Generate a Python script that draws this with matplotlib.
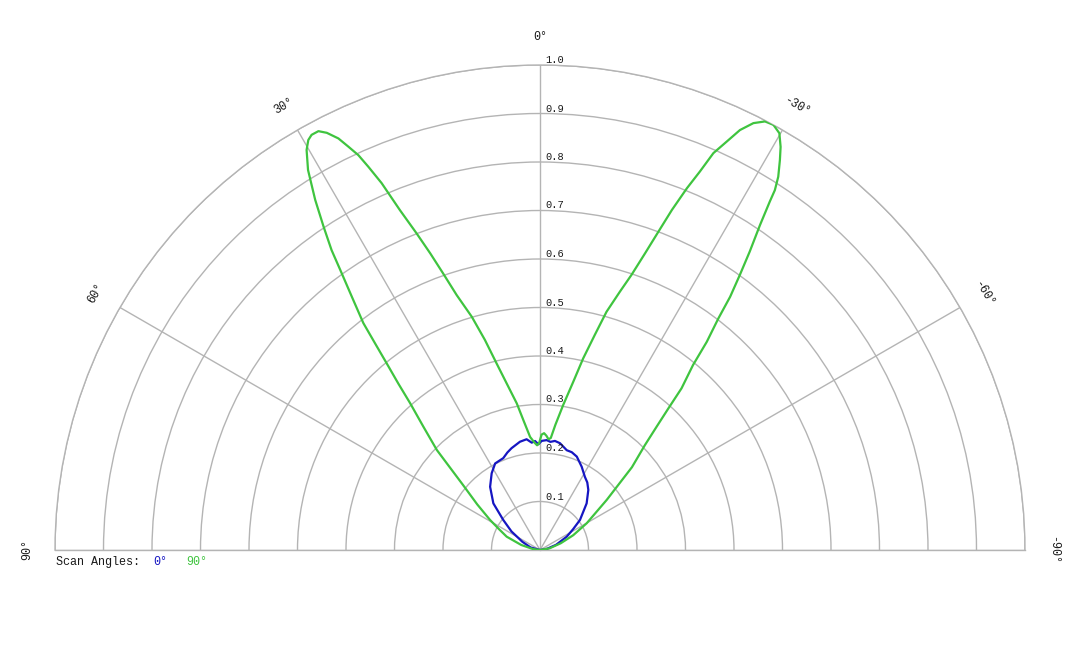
import numpy as np
import matplotlib
matplotlib.use("Agg")
import matplotlib.pyplot as plt
from matplotlib.transforms import offset_copy

plt.rcParams['font.family'] = ['Liberation Mono', 'DejaVu Sans Mono']

# scan angle 0 deg (blue) -- angle in degrees (positive = left), normalised level
theta_0 = [90, 75, 65, 57, 50.7, 45, 38.3, 32.2, 27.4, 21.8, 18.5, 15.6, 10.5, 6.9, 4.4,
           2.6, 0.9, -0.9, -3.5, -5.5, -7.8, -10.6, -15, -18, -21.5, -26.6, -31.5, -35,
           -38.8, -45, -53.1, -58, -63.5, -72, -80, -90]
r_0 = [0, 0.02, 0.04, 0.07, 0.098, 0.136, 0.166, 0.187, 0.201, 0.204, 0.212, 0.218, 0.227,
       0.230, 0.222, 0.225, 0.218, 0.225, 0.227, 0.224, 0.227, 0.224, 0.213, 0.212, 0.207,
       0.192, 0.177, 0.170, 0.159, 0.136, 0.103, 0.08, 0.0615, 0.035, 0.015, 0]

# scan angle 90 deg (green)
theta_90 = [90, 82, 75, 68.2, 63, 59, 54, 49.8, 45.9, 43.4, 41.5, 40.4, 39.4, 38.6, 37.9,
            36.6, 35.5, 34.8, 33.8, 32.7, 31.4, 30.26, 29.47, 28.82, 27.88, 27.07, 26.1,
            25.42, 24.7, 24.13, 23.35, 22.4, 21.3, 20.3, 19.3, 18.1, 16.3, 14.7, 13.1,
            11.3, 9.0, 7.3, 5.0, 3.0, 1.6, 0.5, -0.8, -2.0, -3.2, -4.4, -5.5, -7.0, -9.1,
            -11.2, -12.7, -14.3, -15.6, -17.2, -18.4, -19.5, -20.4, -21.2, -22.1, -22.9,
            -23.6, -24.57, -25.46, -26.56, -27.7, -28.77, -29.87, -30.83, -31.6, -32.55,
            -33.13, -33.4, -34.1, -35.1, -36.0, -36.9, -37.6, -38.7, -39.6, -41.2, -42.2,
            -43.4, -45.0, -48.0, -53.1, -60.2, -66, -72, -80, -90]
r_90 = [0, 0.015, 0.04, 0.074, 0.095, 0.12, 0.16, 0.208, 0.296, 0.350, 0.404, 0.451, 0.498,
        0.545, 0.593, 0.651, 0.709, 0.753, 0.802, 0.858, 0.918, 0.955, 0.971, 0.977, 0.977,
        0.966, 0.945, 0.921, 0.896, 0.866, 0.824, 0.758, 0.701, 0.652, 0.604, 0.553, 0.501,
        0.448, 0.395, 0.350, 0.306, 0.270, 0.234, 0.222, 0.216, 0.22, 0.238, 0.241, 0.236,
        0.229, 0.232, 0.26, 0.303, 0.354, 0.405, 0.458, 0.510, 0.558, 0.598, 0.649, 0.700,
        0.752, 0.805, 0.847, 0.893, 0.926, 0.959, 0.984, 0.998, 1.0, 0.991, 0.968, 0.944,
        0.913, 0.886, 0.861, 0.809, 0.752, 0.701, 0.653, 0.603, 0.550, 0.495, 0.443, 0.394,
        0.350, 0.306, 0.255, 0.172, 0.111, 0.075, 0.045, 0.02, 0]

r_ticks = [0.1, 0.2, 0.3, 0.4, 0.5, 0.6, 0.7, 0.8, 0.9, 1.0]
angle_ticks = [90, 60, 30, 0, -30, -60, -90]

blue = '#1616c2'
green = '#3fc43f'
grid_col = '#b4b4b4'

W, H = 1080, 648
fig = plt.figure(figsize=(10.8, 6.48), dpi=100)
# the half disc is centred inside a square box, so the box is made 970 px square
# and shifted so that the disc's centre sits at (540, 550) px
side = 970
box_top = 307.5 - side / 2
ax = fig.add_axes([55 / W, (H - box_top - side) / H, side / W, side / H], projection='polar')
ax.set_theta_zero_location('N')
ax.set_theta_direction(1)
ax.set_thetamin(-90)
ax.set_thetamax(90)
ax.set_rlim(0, 1)

ax.set_rticks(r_ticks)
ax.set_yticklabels([])
ax.set_thetagrids(angle_ticks, labels=[''] * len(angle_ticks))
ax.grid(True, color=grid_col, linewidth=1)
ax.tick_params(length=0)
for sp in ax.spines.values():
    sp.set_color(grid_col)
    sp.set_linewidth(1)

ax.plot(np.radians(theta_0), r_0, color=blue, lw=1.6, zorder=3, solid_joinstyle='round')
ax.plot(np.radians(theta_90), r_90, color=green, lw=1.6, zorder=3, solid_joinstyle='round')

# radial labels just right of the 0 deg spoke
lab_tr = offset_copy(ax.transData, fig=fig, x=5, y=2, units='dots')
for r in r_ticks:
    ax.text(0, r, f'{r:.1f}', transform=lab_tr, ha='left', va='baseline',
            fontsize=7.5, color='#1a1a1a')

# angle labels, rotated along the rim
for a in angle_ticks:
    ax.text(np.radians(a), 1.057, f'{a}°', rotation=a, rotation_mode='anchor',
            ha='center', va='center', fontsize=8.5, color='#1a1a1a')

fig.text(56 / W, 1 - 562 / H, 'Scan Angles:', ha='left', va='center',
         fontsize=8.5, color='#1a1a1a')
fig.text(153 / W, 1 - 562 / H, '0°', ha='left', va='center', fontsize=8.5, color=blue)
fig.text(186 / W, 1 - 562 / H, '90°', ha='left', va='center', fontsize=8.5, color=green)

fig.savefig('out.png', dpi=100, facecolor='white')
